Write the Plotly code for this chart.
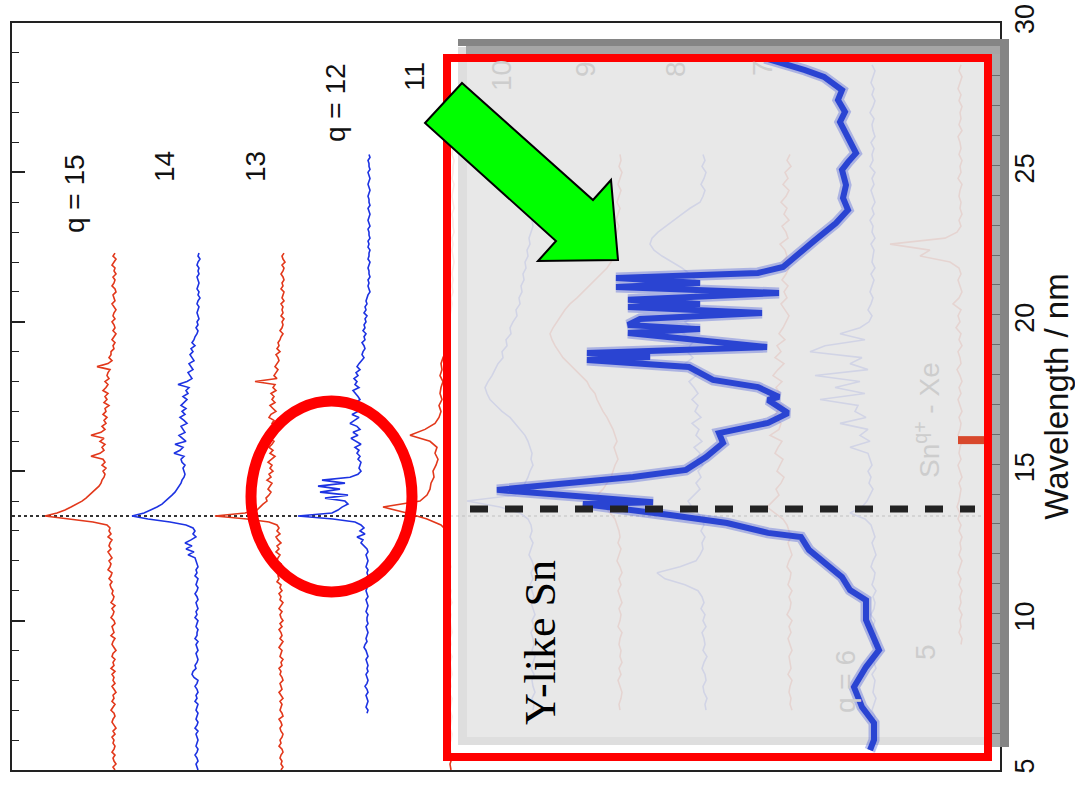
import plotly.graph_objects as go

# ------------------------------------------------------------------ data
# Stacked Sn(q+) spectra: signal (arb. units, grows to the left) sampled on
# a regular wavelength grid that starts at *_START (nm) and steps down.
FINE_STEP = 0.1
COARSE_STEP = 0.2

Q15_START = 22.3
Q15_SIGNAL = [2,4,1,3,5,2,3,1,4,2,3,5,2,1,4,3,2,5,3,1,3,4,2,5,3,2,4,1,3,5,2,4,3,6,
              6,8,5,9,20,7,9,
              10,8,12,9,11,14,9,12,10,13,8,12,11,14,10,13,11,15,12,16,26,13,17,12,15,13,17,26,14,12,15,11,14,12,13,15,
              16,18,21,24,27,31,35,40,46,52,60,
              72,
              50,24,10,7,
              8,6,9,5,7,8,6,9,7,5,8,6,7,9,5,6,8,5,7,6,4,
              5,3,4,6,2,5,3,4,6,3,2,5,4,3,6,2,4,5,3,1,4,5,2,4,3,6,2,5,3,4,
              2,5,3,1,4,3,5,2,4,6,3,2,4,5,3,1,4,2,5,3,4,2,3,5,2,4,3,1,4,2]

Q14_START = 22.3
Q14_SIGNAL = [1,2,0,2,3,1,2,1,3,2,1,2,3,1,2,0,2,3,1,2,3,2,1,3,2,4,2,3,5,
              6,8,5,9,7,10,8,6,11,9,7,12,10,8,13,22,11,
              14,12,17,13,16,19,14,18,15,20,16,13,19,17,15,21,18,14,25,17,20,26,16,19,18,15,17,16,
              15,16,18,19,21,23,25,28,31,34,38,43,49,56,
              68,
              52,30,14,7,
              5,7,4,9,15,8,14,6,12,5,4,
              3,2,4,3,5,2,3,4,2,3,5,3,2,4,3,2,4,3,5,2,3,4,2,3,3,5,2,4,3,2,
              4,3,2,3,5,4,7,8,6,2,3,5,3,2,4,3,5,2,3,4,2,3,4,2,3,5,2,4,3,2,
              3,4,2,3,5,3,2,4,3,2]

Q13_START = 22.3
Q13_SIGNAL = [1,3,2,0,3,1,2,4,2,1,3,2,4,1,2,3,1,4,2,3,2,4,1,3,2,3,5,2,4,
              5,7,6,8,5,9,7,6,8,10,7,9,11,8,
              30,
              10,12,9,14,11,13,10,15,12,9,14,16,11,13,10,15,12,14,17,11,
              13,16,12,15,10,14,17,13,15,12,16,14,18,13,15,17,14,16,19,18,
              22,25,28,40,
              70,
              38,16,8,
              6,8,5,9,7,4,8,6,9,5,7,8,4,6,9,5,7,6,8,4,5,3,6,4,5,2,4,6,3,5,
              4,2,5,3,6,4,3,5,2,4,6,3,4,5,2,4,3,6,4,5,3,2,5,4,3,6,4,2,5,3,
              4,5,3,2,6,4,3,5,4,2,3,5,4,6,3,2,4,5,3,4,2,4]

Q12_START = 25.6
Q12_SIGNAL = [1,0,2,1,1,0,2,1,0,1,2,1,0,1,2,1,1,0,2,1,0,1,2,1,0,2,1,1,0,2,
              1,2,0,1,1,2,0,1,2,1,1,0,2,1,2,1,0,2,
              3,4,3,5,4,6,3,5,4,6,5,7,4,6,5,8,6,5,7,8,6,9,
              11,13,10,14,12,16,13,15,11,17,14,12,
              10,14,9,16,12,18,11,15,20,13,10,17,12,19,14,9,15,11,13,10,12,9,
              10,11,9,12,
              20,48,25,52,30,50,22,45,
              25,22,28,32,38,
              72,
              37,15,9,
              6,10,5,13,7,9,6,
              3,2,4,3,2,3,4,2,3,2,4,3,2,3,4,3,2,4,3,2,3,4,2,3,3,2,4,3,2,3,
              4,3,5,6,4,3,2,4,3,2,3,2,4,3,2,3,5,3,2,4,3,2,3,4,2,3]

Q11_START = 26.0
Q11_SIGNAL = [1,2,3,1,2,2,3,1,2,3,2,1,3,2,2,1,3,2,3,2,1,2,3,2,3,2,4,3,
              4,5,6,5,7,6,8,9,
              12,14,13,15,12,14,15,13,16,14,
              16,20,30,45,25,18,20,17,19,22,21,24,25,28,35,72,48,28,14,8,
              6,8,5,7,6,4,7,5,6,4,5,3,6,4,5,4,3,5,4,6,
              3,5,4,3,5,4,6,3,4,5,3,4,5,3,4,6,4,3,5,4]

Q10_START = 25.6
Q10_SIGNAL = [5,4,6,5,7,5,6,4,7,6,5,8,7,
              9,11,10,13,12,15,14,17,16,19,18,21,20,24,23,
              27,30,29,34,33,38,37,42,45,48,52,55,
              53,50,44,38,30,25,20,15,12,10,8,9,7,10,
              12,15,18,25,
              73,
              40,20,12,9,
              8,10,7,9,11,8,6,9,7,10,8,6,9,7,5,8,6,9,7,6,8,5,7,9,6,8,7,5,8,6,7]

Q9_START = 25.6
Q9_SIGNAL = [5,4,6,3,5,7,4,6,8,5,7,9,6,8,10,9,12,11,14,
             18,24,30,35,42,48,55,60,64,68,72,75,73,70,66,62,56,50,44,38,35,30,28,25,22,
             18,15,12,10,8,11,9,7,10,12,14,18,
             22,28,25,20,15,10,
             8,6,5,7,4,6,8,5,3,6,4,7,5,3,6,4,5,7,3,5,6,4,5,3,6,4,7,5,3,4,6,5]

Q8_START = 25.6
Q8_SIGNAL = [7,5,8,4,6,9,5,7,10,
             20,28,36,45,52,58,60,56,48,38,28,20,
             15,18,12,20,16,22,14,25,18,27,15,20,23,17,25,19,14,21,16,12,18,
             12,15,9,18,11,14,8,16,10,13,7,12,9,14,10,
             16,22,18,12,8,
             6,9,5,8,7,10,14,
             30,53,45,25,
             12,8,6,9,5,7,4,8,6,5,7,3,6,8,5,4,7,6,3,5,4]

Q7_START = 25.6
Q7_SIGNAL = [5,8,4,10,7,12,6,9,14,8,11,6,13,9,7,15,10,8,12,6,9,13,7,11,8,14,10,6,9,
             12,16,10,18,14,20,11,17,22,13,19,15,24,12,18,21,14,16,25,13,17,20,12,15,18,11,14,19,16,22,
             28,20,12,8,
             6,4,7,5,3,6,8,4,5,7,3,6,4,5,8,3,6,4,7,5,3,6,5,4,7,3,5,6,4,5,3]

Q6_START = 28.6
Q6_SIGNAL = [8,5,7,9,6,8,5,7,10,6,8,7,5,9,6,8,7,10,5,8,6,9,7,5,8,6,10,7,8,5,
             9,6,7,8,5,9,6,8,10,7,9,12,8,11,
             20,40,15,55,70,18,30,12,65,20,45,15,60,22,25,14,40,12,20,10,30,12,
             10,8,12,9,11,7,10,13,18,
             30,15,9,
             7,5,8,6,4,7,9,5,6,8,4,7,5,6,9,5,7,4,6,8,5,7,6,4,8,5,6,7,4,6,
             8,5,7,6,4,5,7,6,5]

Q5_START = 28.6
Q5_SIGNAL = [4,6,3,5,7,4,6,3,5,4,6,3,7,5,4,6,3,5,4,7,3,5,6,4,5,3,6,4,8,
             20,75,35,45,15,
             6,4,7,5,3,6,12,4,7,5,9,4,6,3,7,5,4,8,5,3,6,4,7,5,3,6,4,5,7,3,
             5,6,4,7,5,3,6,4,5,6,
             8,5,7,4,6,3,5,4,6,3,5,7,4,6,3,5,4,6,3,5,4,6,3,4]

# Inset: Y-like Sn spectrum (wavelength nm, intensity arb. units)
YSN_WL = [28.59, 28.43, 28.19, 27.96, 27.72, 27.52, 27.19, 26.79, 26.45, 26.18,
          25.78, 25.41, 25.11, 24.85, 24.34, 23.91, 23.51, 23.07, 22.50, 22.07,
          21.60, 21.40, 21.23, 21.06, 20.93, 20.73, 20.50, 20.36, 20.26, 20.06,
          19.86, 19.66, 19.52, 19.39, 18.92, 18.72, 18.59, 18.49, 18.25, 17.82,
          17.68, 17.58, 17.25, 17.15, 16.71, 16.38, 16.04, 15.71, 15.24, 14.81,
          14.57, 14.37, 14.14, 13.97, 13.80, 13.73, 13.67, 13.47, 13.30, 13.03,
          12.70, 12.56, 12.13, 11.69, 11.22, 10.79, 10.45, 9.79, 9.12, 8.78,
          8.21, 7.54, 6.87, 6.34, 5.77, 5.43]
YSN_INT = [28.75, 24.25, 18.75, 14.0, 11.25, 9.5, 10.5, 8.75, 10.0, 9.0,
           7.5, 6.0, 8.0, 9.5, 8.5, 9.25, 8.0, 11.0, 16.25, 20.25,
           24.25, 30.5, 66.0, 45.0, 66.0, 25.25, 63.0, 45.0, 63.0, 29.5,
           60.0, 63.0, 45.0, 63.0, 28.25, 73.25, 57.5, 73.25, 47.75, 41.75,
           35.0, 30.5, 25.25, 28.0, 23.0, 28.0, 40.25, 39.25, 43.5, 48.5,
           61.75, 79.25, 95.75, 79.25, 60.75, 56.75, 74.25, 61.75, 52.5, 38.25,
           28.0, 19.75, 17.75, 13.75, 9.5, 7.5, 3.5, 3.5, 1.5, 0.25,
           3.5, 6.5, 4.5, 1.5, 1.5, 2.5]

EUV_LINE_NM = 13.5
MARKER_NM = 16.04
WL_TICKS = [5, 10, 15, 20, 25, 30]
Q_LABELS = ["q = 15", "14", "13", "q = 12", "11"]
Q_LABELS_FAINT = ["10", "9", "8", "7", "q = 6", "5", "Sn<sup>q+</sup> - Xe"]
INSET_LABEL = "Y-like Sn"
AXIS_TITLE = "Wavelength / nm"

# ------------------------------------------------------------------ layout helpers
W, H = 1075, 787
ML, MR, MT, MB = 12, 75, 23, 17
PW, PH = W - ML - MR, H - MT - MB


def xp(px):
    return (px - ML) / PW


def yp(py):
    return (H - MB - py) / PH


def ix(px):  # inset intensity coordinate of a pixel column
    return (880 - px) / 4.0


def iy(py):  # inset wavelength coordinate of a pixel row
    return 29.765 - (py - 23) / 29.88


RED = "#e2381b"
BLUE = "#1d33e2"
FONT = "Liberation Sans, Arial, sans-serif"

series = [
    (Q15_START, FINE_STEP, Q15_SIGNAL, RED, 883),
    (Q14_START, FINE_STEP, Q14_SIGNAL, BLUE, 800),
    (Q13_START, FINE_STEP, Q13_SIGNAL, RED, 715),
    (Q12_START, FINE_STEP, Q12_SIGNAL, BLUE, 630),
    (Q11_START, COARSE_STEP, Q11_SIGNAL, RED, 545),
    (Q10_START, COARSE_STEP, Q10_SIGNAL, BLUE, 460),
    (Q9_START, COARSE_STEP, Q9_SIGNAL, RED, 375),
    (Q8_START, COARSE_STEP, Q8_SIGNAL, BLUE, 290),
    (Q7_START, COARSE_STEP, Q7_SIGNAL, RED, 205),
    (Q6_START, COARSE_STEP, Q6_SIGNAL, BLUE, 120),
    (Q5_START, COARSE_STEP, Q5_SIGNAL, RED, 35),
]

fig = go.Figure()
for start, step, sig, col, off in series:
    wl = [round(start - i * step, 2) for i in range(len(sig))]
    fig.add_trace(go.Scatter(x=[off + s for s in sig], y=wl, mode="lines",
                             line=dict(color=col, width=1.6), hoverinfo="skip",
                             showlegend=False))

# inset spectrum (halo + core)
fig.add_trace(go.Scatter(x=YSN_INT, y=YSN_WL, xaxis="x2", yaxis="y2", mode="lines",
                         line=dict(color="rgba(60,80,215,0.35)", width=11),
                         hoverinfo="skip", showlegend=False))
fig.add_trace(go.Scatter(x=YSN_INT, y=YSN_WL, xaxis="x2", yaxis="y2", mode="lines",
                         line=dict(color="#2a44d2", width=6),
                         hoverinfo="skip", showlegend=False))

shapes = []
# dotted 13.5 nm guide in the main panel (under the inset veil)
shapes.append(dict(type="line", xref="paper", yref="y", x0=0, x1=1,
                   y0=EUV_LINE_NM, y1=EUV_LINE_NM, layer="below",
                   line=dict(color="#333333", width=2, dash="3px,3px")))
# inset veil (lives in the inset subplot, so it sits above the main traces)
veil = [
    (451, 458, 40, 753, "rgba(255,255,255,0.88)"),
    (458, 1000, 745, 753, "rgba(255,255,255,0.88)"),
    (467, 1000, 47, 737, "rgba(230,230,230,0.9)"),
    (458, 467, 47, 745, "rgba(219,219,219,0.92)"),
    (467, 1000, 737, 745, "rgba(219,219,219,0.92)"),
    (991, 1000, 46, 747, "#a9a9a9"),
]
for x0, x1, y0, y1, c in veil:
    shapes.append(dict(type="rect", xref="x2", yref="y2", layer="below",
                       x0=ix(x0), x1=ix(x1), y0=iy(y1), y1=iy(y0),
                       fillcolor=c, line=dict(width=0)))
# frame bars of the inset
for x0, x1, y0, y1, c in [(466, 1001, 46, 54, "#a6a6a6"),
                          (458, 1009, 39, 46, "#858585"),
                          (1000, 1009, 39, 747, "#858585")]:
    shapes.append(dict(type="rect", xref="paper", yref="paper", layer="above",
                       x0=xp(x0), x1=xp(x1), y0=yp(y1), y1=yp(y0),
                       fillcolor=c, line=dict(width=0)))
# red marker
shapes.append(dict(type="line", xref="paper", yref="y", layer="above",
                   x0=xp(958), x1=xp(984), y0=MARKER_NM, y1=MARKER_NM,
                   line=dict(color="#d8482c", width=8)))
# dashed 13.5 nm line in the inset
shapes.append(dict(type="line", xref="paper", yref="y2", layer="above",
                   x0=xp(470), x1=xp(975), y0=EUV_LINE_NM, y1=EUV_LINE_NM,
                   line=dict(color="#222222", width=7, dash="18px,17px")))
# red frame
shapes.append(dict(type="rect", xref="paper", yref="paper", layer="above",
                   x0=xp(447), x1=xp(988), y0=yp(757), y1=yp(58),
                   line=dict(color="#ff0000", width=8), fillcolor="rgba(0,0,0,0)"))
# red ellipse
shapes.append(dict(type="circle", xref="paper", yref="paper", layer="above",
                   x0=xp(251), x1=xp(412), y0=yp(592), y1=yp(401),
                   line=dict(color="#ff0000", width=11), fillcolor="rgba(0,0,0,0)"))
# green arrow
arrow = [(462, 83), (593, 200), (611, 180), (618, 260), (538, 261), (556, 241), (425, 123)]
path = "M " + " L ".join(f"{xp(a):.5f},{yp(b):.5f}" for a, b in arrow) + " Z"
shapes.append(dict(type="path", xref="paper", yref="paper", layer="above", path=path,
                   fillcolor="#00ff00", line=dict(color="#000000", width=2)))

annotations = []
for txt, (px, py) in zip(Q_LABELS, [(75, 194), (165, 167), (256, 167), (335, 103), (414, 77)]):
    annotations.append(dict(text=txt, x=xp(px), y=yp(py), xref="paper", yref="paper",
                            showarrow=False, textangle=-90, xanchor="center", yanchor="middle",
                            font=dict(family=FONT, size=28, color="#111111")))
for txt, (px, py) in zip(Q_LABELS_FAINT, [(501, 76), (585, 69), (675, 69), (763, 68),
                                          (845, 682), (925, 652), (927, 420)]):
    annotations.append(dict(text=txt, x=xp(px), y=yp(py), xref="paper", yref="paper",
                            showarrow=False, textangle=-90, xanchor="center", yanchor="middle",
                            font=dict(family=FONT, size=28, color="#cdcdcd")))
annotations.append(dict(text=INSET_LABEL, x=xp(540), y=yp(643), xref="paper", yref="paper",
                        showarrow=False, textangle=-90, xanchor="center", yanchor="middle",
                        font=dict(family="Liberation Serif, Times New Roman, serif",
                                  size=44, color="#000000")))

fig.update_layout(
    width=W, height=H,
    margin=dict(l=ML, r=MR, t=MT, b=MB, pad=0),
    paper_bgcolor="white", plot_bgcolor="rgba(0,0,0,0)",
    showlegend=False,
    xaxis=dict(range=[988, 0], showline=True, mirror=True, linecolor="#222222", linewidth=1.6,
               ticks="", showticklabels=False, showgrid=False, zeroline=False, automargin=False),
    yaxis=dict(range=[5, 30], side="right", showline=True, mirror="ticks", linecolor="#222222",
               linewidth=1.6, ticks="inside", ticklen=13, tickwidth=1.5, tickcolor="#222222",
               tickvals=WL_TICKS, ticktext=[str(v) for v in WL_TICKS], tickangle=-90,
               tickfont=dict(family=FONT, size=27, color="#111111"),
               minor=dict(dtick=1, tick0=0, ticks="inside", ticklen=7, tickwidth=1.2,
                          tickcolor="#222222"),
               title=dict(text=AXIS_TITLE, font=dict(family=FONT, size=33, color="#111111"),
                          standoff=6),
               showgrid=False, zeroline=False, automargin=False),
    xaxis2=dict(domain=[xp(451), 1.0], range=[ix(451), ix(1000)], anchor="y2",
                showline=False, ticks="", showticklabels=False, showgrid=False,
                zeroline=False, automargin=False),
    yaxis2=dict(domain=[yp(753), yp(40)], range=[iy(753), iy(40)], anchor="x2", side="right",
                showline=False, ticks="inside", ticklen=9, tickwidth=1.2, tickcolor="#6a6a6a",
                tick0=0, dtick=1, showticklabels=False, showgrid=False, zeroline=False,
                automargin=False),
    shapes=shapes,
    annotations=annotations,
)

fig.write_html("out.html")
